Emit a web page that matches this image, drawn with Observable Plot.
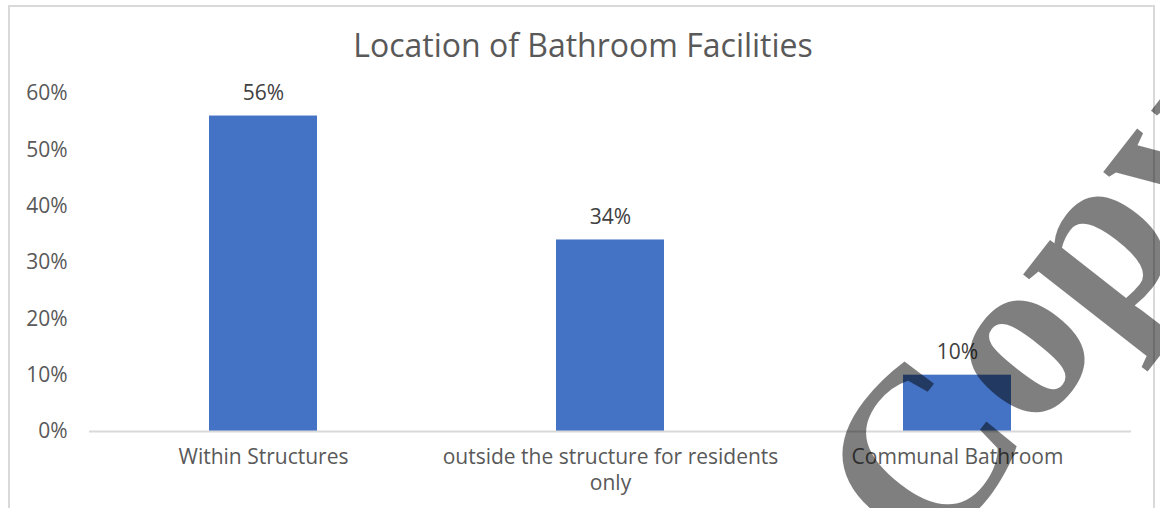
<!DOCTYPE html>
<html>
<head>
<meta charset="utf-8">
<script src="https://cdn.jsdelivr.net/npm/d3@7"></script>
<script src="https://cdn.jsdelivr.net/npm/@observablehq/plot@0.6"></script>
<style>
  html, body { margin: 0; padding: 0; background: #fff; }
  #wrap { position: relative; width: 1160px; height: 508px; overflow: hidden; background: #fff; font-family: "Open Sans", sans-serif; }
  #frame { position: absolute; left: 8px; top: 5px; width: 1147px; height: 520px; border: 2px solid #d9d9d9; box-sizing: border-box; }
  #title { position: absolute; left: 0; top: 0; width: 1166px; height: 70px; text-align: center; color: #595959; font-size: 32px; line-height: 90px; }
  #chart { position: absolute; left: 0; top: 70px; }
  #wm { position: absolute; left: 775px; top: 449px; transform-origin: 0 0; transform: rotate(-52deg); font-family: "Liberation Serif", serif; font-weight: bold; font-size: 235px; line-height: 1; color: rgba(0,0,0,0.5); white-space: nowrap; pointer-events: none; }
</style>
</head>
<body>
<div id="wrap">
  <div id="frame"></div>
  <div id="title"></div>
  <div id="chart"></div>
  <div id="wm">Copy</div>
</div>
<script>
const title = "Location of Bathroom Facilities";
const categories = ["Within Structures", "outside the structure for residents only", "Communal Bathroom"];
const categoryLabels = ["Within Structures", "outside the structure for residents\nonly", "Communal Bathroom"];
const values = [0.56, 0.34, 0.10];
const yTicks = [0, 0.1, 0.2, 0.3, 0.4, 0.5, 0.6];

document.getElementById("title").textContent = title;

const data = categories.map((c, i) => ({category: c, label: categoryLabels[i], value: values[i]}));
const labelOf = new Map(data.map(d => [d.category, d.label]));
const pct = d3.format(".0%");

const chart = Plot.plot({
  width: 1160,
  height: 438,
  marginTop: 23,
  marginBottom: 77,
  marginLeft: 89,
  marginRight: 29,
  style: {fontFamily: "Open Sans, sans-serif", fontSize: "21px", color: "#595959", background: "transparent"},
  x: {domain: categories, paddingInner: 0.69, paddingOuter: 0.345},
  y: {domain: [0, 0.6]},
  marks: [
    Plot.barY(data, {x: "category", y: "value", fill: "#4472C4"}),
    Plot.ruleY([0], {stroke: "#d9d9d9", strokeWidth: 2}),
    Plot.text(data, {x: "category", y: "value", text: d => pct(d.value), dy: -23, fill: "#404040", fontSize: 21}),
    Plot.axisY({ticks: yTicks, tickFormat: pct, tickSize: 0, tickPadding: 22, label: null, fill: "#595959", fontSize: 21}),
    Plot.axisX({tickFormat: c => labelOf.get(c), tickSize: 0, tickPadding: 15, label: null, fill: "#595959", fontSize: 21, lineHeight: 1.2})
  ]
});
document.getElementById("chart").appendChild(chart);
</script>
</body>
</html>
